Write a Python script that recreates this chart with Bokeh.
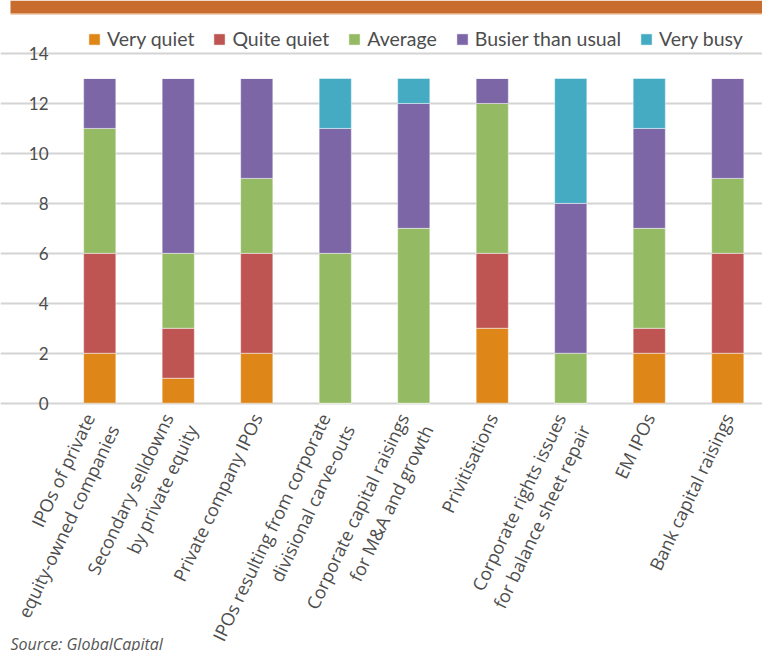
import math
from bokeh.plotting import figure
from bokeh.models import (ColumnDataSource, Range1d, FixedTicker, Legend, Grid,
                          BoxAnnotation)
from bokeh.core.properties import value
from bokeh.embed import file_html
from bokeh.resources import INLINE

categories = [
    "IPOs of private\nequity-owned companies",
    "Secondary selldowns\nby private equity",
    "Private company IPOs",
    "IPOs resulting from corporate\ndivisional carve-outs",
    "Corporate capital raisings\nfor M&A and growth",
    "Privitisations",
    "Corporate rights issues\nfor balance sheet repair",
    "EM IPOs",
    "Bank capital raisings",
]
series_names = ["Very quiet", "Quite quiet", "Average", "Busier than usual", "Very busy"]
very_quiet = [2, 1, 2, 0, 0, 3, 0, 2, 2]
quite_quiet = [4, 2, 4, 0, 0, 3, 0, 1, 4]
average = [5, 3, 3, 6, 7, 6, 2, 4, 3]
busier = [2, 7, 4, 5, 5, 1, 6, 4, 4]
very_busy = [0, 0, 0, 2, 1, 0, 5, 2, 0]
y_ticks = [0, 2, 4, 6, 8, 10, 12, 14]
colors = ["#DF8619", "#BE5553", "#95BA64", "#7C66A6", "#44ABC3"]
source_note = "Source: GlobalCapital"

keys = ["vq", "qq", "avg", "bus", "vb"]
xs = [i + 0.5 for i in range(len(categories))]
source = ColumnDataSource(dict(x=xs, vq=very_quiet, qq=quite_quiet, avg=average,
                               bus=busier, vb=very_busy))

FONT = "Open Sans"
LFONT = "Lato"
TXT = "#4d4d4d"

W, H = 762, 651
# layout: one category = 78.5 px, one y unit = 24.98 px
X0, X1 = -0.7643, 8.9427
Y0, Y1 = -9.94, 16.121

p = figure(width=W, height=H, toolbar_location=None, output_backend="svg",
           x_range=Range1d(X0, X1), y_range=Range1d(Y0, Y1),
           x_axis_location=None, y_axis_location=None,
           min_border=0, outline_line_color=None)
p.grid.visible = False

grid = Grid(dimension=1, ticker=FixedTicker(ticks=y_ticks), bounds=(0, X1),
            grid_line_color="#d4d4d4", grid_line_width=2)
p.add_layout(grid)

renderers = p.vbar_stack(keys, x="x", width=0.41, source=source, color=colors,
                         line_color="white", line_width=0.8, line_alpha=0.6)

legend = Legend(items=[(n, [r]) for n, r in zip(series_names, renderers)],
                orientation="horizontal", location=(87, H - 36 - 14),
                label_text_font=LFONT, label_text_font_size="19.5px",
                label_text_color=TXT, glyph_width=14, glyph_height=14,
                label_height=14, label_standoff=6, spacing=18, padding=0,
                margin=0, border_line_color=None, background_fill_alpha=0)
p.add_layout(legend, "center")

# y tick labels
p.text(x=[-0.153] * len(y_ticks), y=y_ticks, text=[str(t) for t in y_ticks],
       text_align="right", text_baseline="middle", text_font=value(LFONT),
       text_font_size="17px", text_color=TXT)

# category labels (multi-line labels need a slightly larger shift)
label_x = [x - (0.27 if "\n" in c else 0.135) for x, c in zip(xs, categories)]
p.text(x=label_x, y=[-0.25] * len(xs), text=categories,
       angle=math.radians(64.5), text_align="right", text_baseline="top",
       text_font=value(FONT), text_font_size="18px", text_color=TXT,
       text_line_height=1.12)

# orange header band
p.add_layout(BoxAnnotation(left=-0.637, bottom=15.6, fill_color="#C96D2E",
                           fill_alpha=1, line_color=None))
p.add_layout(BoxAnnotation(left=-0.637, bottom=15.56, top=15.6,
                           fill_color="#E4A36F", fill_alpha=1, line_color=None))

p.text(x=[-0.637], y=[-9.64], text=[source_note], text_align="left",
       text_baseline="alphabetic", text_font=value(FONT),
       text_font_style="italic", text_font_size="16px", text_color="#555555")

open("out.html", "w").write(file_html(p, INLINE))
